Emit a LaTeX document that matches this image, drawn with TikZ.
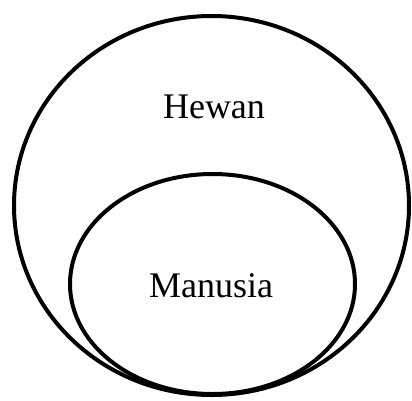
\documentclass[tikz,border=0pt]{standalone}
\usepackage{fontspec}
\setmainfont{Liberation Serif}
\usepackage{tikz}
\usetikzlibrary{positioning}

\begin{document}
\begin{tikzpicture}[x=1pt, y=-1pt, line width=4pt, every node/.style={anchor=base, font=\fontsize{36}{40}\selectfont}]
\useasboundingbox (0,0) rectangle (412,400);
\draw (211.5,205.5) ellipse [x radius=197.5, y radius=189.5];
\draw (212.5,284) ellipse [x radius=142.5, y radius=110];
\node (hewan) at (214,118) {Hewan};
\node (manusia) at (211,297) {Manusia};
\end{tikzpicture}
\end{document}
